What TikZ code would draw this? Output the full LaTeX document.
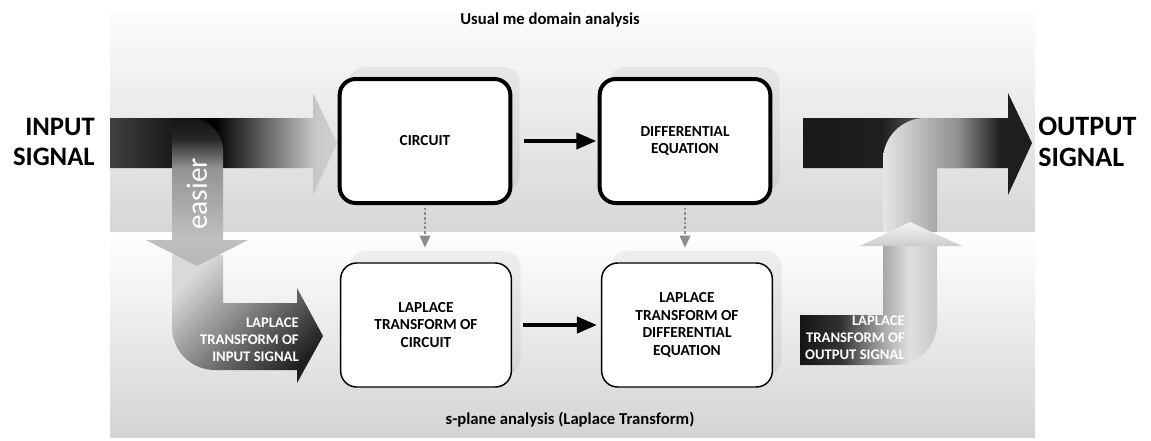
\documentclass[tikz,border=0pt]{standalone}
\usepackage{fontspec}
\setmainfont{Carlito}
\usetikzlibrary{arrows.meta, positioning, shadows}

\pgfdeclarehorizontalshading{inshade}{100bp}{color(0bp)=(black!75); color(25bp)=(black!75); color(48bp)=(black); color(70bp)=(black!22); color(75bp)=(black!18); color(100bp)=(black!18)}
\pgfdeclareverticalshading{downshade}{100bp}{color(0bp)=(black!28); color(25bp)=(black!28); color(34bp)=(black!25); color(58bp)=(black!42); color(68bp)=(black!85); color(75bp)=(black!92); color(100bp)=(black!92)}
\pgfdeclarehorizontalshading{outshade}{100bp}{color(0bp)=(black!90); color(25bp)=(black!90); color(42bp)=(black!88); color(59bp)=(black!45); color(68bp)=(black!88); color(100bp)=(black!90)}
\pgfdeclarehorizontalshading{lowoutshade}{100bp}{color(0bp)=(black!92); color(25bp)=(black!92); color(40bp)=(black!80); color(55bp)=(black!35); color(65bp)=(black!12); color(75bp)=(black!22); color(100bp)=(black!22)}

\tikzstyle{box} = [draw, rounded corners=12pt, fill=white, minimum width=128pt, minimum height=93pt, align=center, font=\bfseries\fontsize{11.5}{13.3}\selectfont, drop shadow={shadow xshift=7pt, shadow yshift=9pt, fill=black, opacity=0.05}]
\tikzstyle{topbox} = [box, line width=3pt]
\tikzstyle{lowbox} = [box, line width=1.1pt]
\tikzstyle{arrow} = [line width=3pt, -{Triangle[length=15pt, width=12pt]}]
\tikzstyle{dasharrow} = [line width=1.1pt, black!45, dash pattern=on 2pt off 1.5pt, -{Triangle[length=9pt, width=8pt]}]
\tikzstyle{biglabel} = [inner sep=0pt, align=left, font=\bfseries\fontsize{20}{23}\selectfont]
\tikzstyle{arrowlabel} = [inner sep=0pt, anchor=east, align=right, text=white, font=\bfseries\fontsize{11}{12.75}\selectfont]
\tikzstyle{bandlabel} = [font=\bfseries\fontsize{12.5}{14}\selectfont]

\begin{document}
\begin{tikzpicture}[x=0.75pt, y=-0.75pt]
    \useasboundingbox (0,0) rectangle (1151,440);
    % bands
    \shade[top color=black!1, bottom color=black!16] (110,12) rectangle (1035,232);
    \shade[top color=white, bottom color=black!17] (110,232) rectangle (1035,437);
    \node[bandlabel] (tdomain) at (550,20) {Usual me domain analysis};
    \node[bandlabel] (sdomain) at (570,420) {s-plane analysis (Laplace Transform)};

    % input side
    \shade[shading=inshade] (110,118) -- (313,118) -- (313,93) -- (337,143) -- (313,195) -- (313,168) -- (110,168) -- cycle;
    \shade[top color=black!15, bottom color=black!88, shading angle=45] (172,255) -- (223,255) -- (223,303) -- (297,303) -- (297,288) -- (323,336) -- (297,383) -- (297,370) -- (215,370) .. controls (191,370) and (172,351) .. (172,327) -- cycle;
    \shade[shading=downshade] (172,118) -- (190,118) .. controls (208,118) and (223,133) .. (223,151) -- (223,240) -- (248,240) -- (197,266) -- (146,240) -- (172,240) -- cycle;
    \node[rotate=90, text=white, font=\fontsize{22}{24}\selectfont] (easier) at (197,194) {easier};
    \node[arrowlabel] (lin) at (299,340) {LAPLACE\\TRANSFORM OF\\INPUT SIGNAL};
    \node[biglabel, align=right, anchor=east] (insig) at (95,142) {INPUT\\SIGNAL};

    % output side
    \shade[shading=outshade] (803,118) -- (1008,118) -- (1008,93) -- (1032,143) -- (1008,195) -- (1008,168) -- (803,168) -- cycle;
    \shade[left color=black!10, right color=black!45] (883,232) -- (883,160) .. controls (883,137) and (902,118) .. (925,118) -- (960,118) -- (960,168) -- (937,168) -- (937,232) -- cycle;
    \shade[shading=lowoutshade] (800,315) -- (883,315) -- (883,246) -- (937,246) -- (937,323) .. controls (937,346) and (918,365) .. (895,365) -- (800,365) -- cycle;
    \shade[top color=black!4, bottom color=black!20] (860,246) -- (910,222) -- (962,246) -- cycle;
    \node[arrowlabel] (lout) at (905,338) {LAPLACE\\TRANSFORM OF\\OUTPUT SIGNAL};
    \node[biglabel, anchor=west, font=\bfseries\fontsize{21}{23}\selectfont] (outsig) at (1038,142) {OUTPUT\\SIGNAL};

    % blocks
    \node[topbox] (circuit) at (425,141) {CIRCUIT};
    \node[topbox] (diffeq) at (685,141) {DIFFERENTIAL\\EQUATION};
    \node[lowbox] (lcircuit) at (426,325) {LAPLACE\\TRANSFORM OF\\CIRCUIT};
    \node[lowbox] (ldiffeq) at (687,325) {LAPLACE\\TRANSFORM OF\\DIFFERENTIAL\\EQUATION};

    \draw[arrow, shorten <=9pt, shorten >=1pt] (circuit) -- (diffeq);
    \draw[arrow, shorten <=8pt, shorten >=3pt] (lcircuit) -- (ldiffeq);
    \draw[dasharrow, shorten <=2pt, shorten >=11pt] (circuit) -- (circuit |- lcircuit.north);
    \draw[dasharrow, shorten <=2pt, shorten >=11pt] (diffeq) -- (diffeq |- ldiffeq.north);
\end{tikzpicture}
\end{document}
